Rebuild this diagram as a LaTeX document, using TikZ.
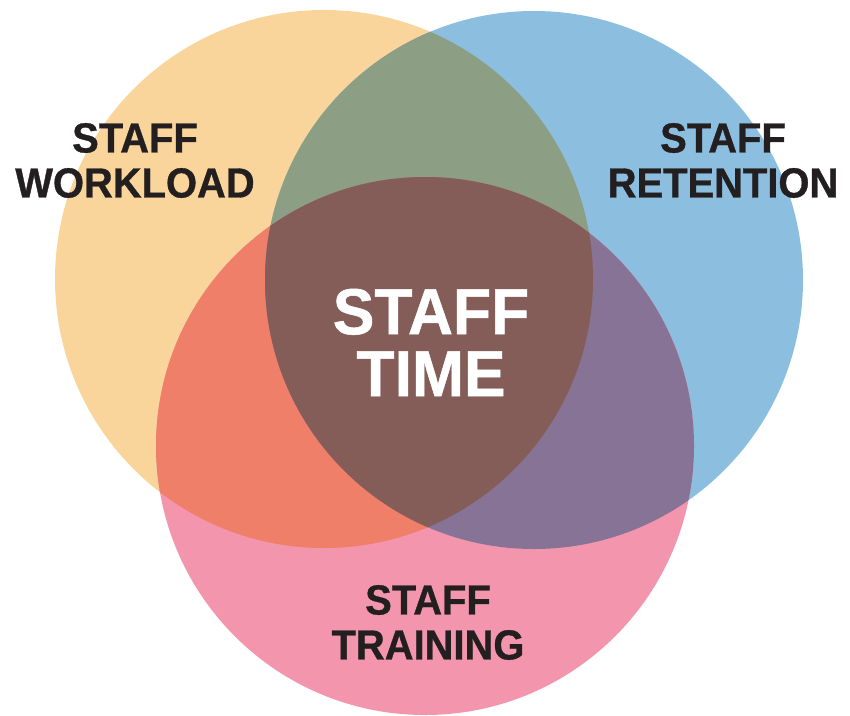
\documentclass[tikz,border=0pt]{standalone}
\usepackage{fontspec}
\setmainfont{Liberation Sans}[FakeStretch=0.95,FakeBold=0.8]
\newfontfamily\centerfont{Liberation Sans}[FakeStretch=0.96,FakeBold=0.8]
\definecolor{cO}{HTML}{FAD59B}
\definecolor{cB}{HTML}{8CBFDF}
\definecolor{cP}{HTML}{F396AD}
\definecolor{cOB}{HTML}{8C9F85}
\definecolor{cOP}{HTML}{F07F69}
\definecolor{cBP}{HTML}{877396}
\definecolor{cOBP}{HTML}{845D59}
\definecolor{txt}{HTML}{231F20}
\tikzset{
  lbl/.style={align=center, inner sep=0pt, text=txt, font=\fontsize{42}{45}\selectfont\bfseries},
  mainlbl/.style={align=center, inner sep=0pt, text=white, font=\centerfont\fontsize{65}{62}\selectfont\bfseries}
}
\begin{document}
\begin{tikzpicture}[x=1pt,y=-1pt]
\useasboundingbox (0,0) rectangle (850,715);
\def\R{269}
\coordinate (O) at (324,279);
\coordinate (B) at (534,280);
\coordinate (P) at (425,446);
\fill[cO] (O) circle (\R);
\fill[cB] (B) circle (\R);
\fill[cP] (P) circle (\R);
\begin{scope}
  \clip (O) circle (\R);
  \fill[cOB] (B) circle (\R);
  \fill[cOP] (P) circle (\R);
\end{scope}
\begin{scope}
  \clip (B) circle (\R);
  \fill[cBP] (P) circle (\R);
\end{scope}
\begin{scope}
  \clip (O) circle (\R);
  \clip (B) circle (\R);
  \fill[cOBP] (P) circle (\R);
\end{scope}
\node[lbl] (workload) at (135,160.5) {STAFF\\WORKLOAD};
\node[lbl] (retention) at (723,160.5) {STAFF\\RETENTION};
\node[lbl] (training) at (428,622.5) {STAFF\\TRAINING};
\node[mainlbl] (time) at (431,342.5) {STAFF\\TIME};
\end{tikzpicture}
\end{document}
